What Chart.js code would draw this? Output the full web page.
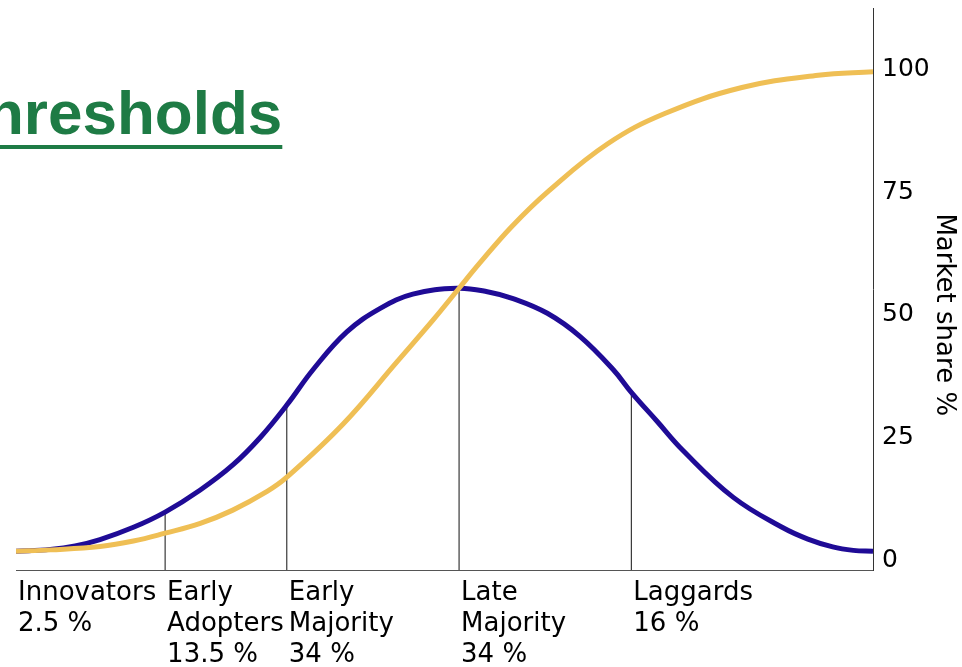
<!DOCTYPE html>
<html>
<head>
<meta charset="utf-8">
<script src="https://cdn.jsdelivr.net/npm/chart.js@4.4.1/dist/chart.umd.min.js"></script>
<style>
  html, body { margin: 0; padding: 0; background: #fff; }
  #wrap { position: relative; width: 962px; height: 667px; overflow: hidden; }
  #chart { position: absolute; left: 0; top: 0; }
  #heading {
    position: absolute; left: -14px; top: 82px;
    font: bold 62px "Liberation Sans", Arial, sans-serif; line-height: 62px;
    color: #1e7b45; white-space: nowrap;
    text-decoration: underline; text-decoration-thickness: 4px; text-underline-offset: 11px;
  }
</style>
</head>
<body>
<div id="wrap">
  <canvas id="chart" width="962" height="667"></canvas>
  <div id="heading">hresholds</div>
</div>
<script>
// x runs 0..100 along the adoption timeline
const adoptersX = [0, 4, 6.9, 9.8, 13.7, 17.4, 21.5, 25.3, 28.5, 31.6, 34.7, 38.6, 42.5, 46.3, 51.5, 55, 58, 62, 65.8, 69.7, 71.8, 74.8, 77.8, 83.7, 89.5, 92.4, 95.3, 97.7, 100];
const adoptersY = [1.8, 2.2, 2.9, 4.2, 6.7, 9.8, 14.3, 19.4, 25.0, 31.6, 38.9, 46.5, 51.3, 54.2, 55.4, 54.7, 53.3, 50.3, 45.6, 38.8, 34.2, 28.3, 22.4, 12.8, 6.6, 4.3, 2.7, 2.0, 1.8];

const shareX = [0, 4, 9.8, 13.7, 17.4, 21.5, 25.3, 29.3, 31.6, 38.2, 44.5, 48.7, 51.7, 54.1, 57.8, 62.2, 69, 75.7, 84.7, 93.6, 100];
const shareY = [1.8, 2.1, 2.8, 3.9, 5.5, 7.5, 10.2, 14.0, 16.9, 27.8, 40.5, 49, 55.4, 60.5, 67.9, 75.3, 84.8, 91, 96.3, 98.8, 99.5];

// segment boundaries and the height of the bell curve there
const boundaryX = [17.4, 31.6, 51.7, 71.8];
const boundaryTop = [9.8, 31.6, 55.4, 34.2];

const segmentStart = [0, 17.4, 31.6, 51.7, 71.8];
const segmentNames = ["Innovators", "Early Adopters", "Early Majority", "Late Majority", "Laggards"];
const segmentShares = ["2.5 %", "13.5 %", "34 %", "34 %", "16 %"];

const yTicks = [0, 25, 50, 75, 100];
const yMin = -2;
const yMax = 112.5;

const segmentLabels = segmentNames.map((n, i) => n.split(" ").concat(segmentShares[i]));

function points(xs, ys) {
  return xs.map((x, i) => ({ x, y: ys[i] }));
}

const boundarySets = boundaryX.map((x, i) => ({
  data: [{ x, y: yMin }, { x, y: boundaryTop[i] }],
  borderColor: "#111",
  borderWidth: 1,
  pointRadius: 0
}));

const axisTitle = {
  id: "axisTitle",
  afterDraw(chart) {
    const ctx = chart.ctx;
    const y = chart.scales.y;
    ctx.save();
    ctx.translate(chart.width - 25, y.getPixelForValue(50));
    ctx.rotate(Math.PI / 2);
    ctx.font = "26px 'DejaVu Sans'";
    ctx.fillStyle = "#000";
    ctx.textAlign = "center";
    ctx.textBaseline = "alphabetic";
    ctx.fillText("Market share %", 0, 0);
    ctx.restore();
  }
};

new Chart(document.getElementById("chart").getContext("2d"), {
  type: "line",
  data: {
    datasets: [
      {
        label: "Market share",
        data: points(shareX, shareY),
        borderColor: "#efbf55",
        borderWidth: 5,
        pointRadius: 0,
        tension: 0.4
      },
      {
        label: "Adopters",
        data: points(adoptersX, adoptersY),
        borderColor: "#1f0b96",
        borderWidth: 5,
        pointRadius: 0,
        tension: 0.4
      },
      ...boundarySets
    ]
  },
  options: {
    responsive: false,
    animation: false,
    layout: { padding: { left: 16, top: 8, right: 0, bottom: 0 } },
    plugins: { legend: { display: false }, tooltip: { enabled: false } },
    scales: {
      x: {
        type: "linear",
        min: 0,
        max: 100,
        grid: { display: false, drawTicks: false },
        border: { display: true, color: "#555", width: 1 },
        afterBuildTicks: (s) => { s.ticks = segmentStart.map((v) => ({ value: v })); },
        afterFit: (s) => { s.height = 97; s.paddingLeft = 0; s.paddingRight = 0; },
        ticks: {
          autoSkip: false,
          maxRotation: 0,
          align: "start",
          padding: 8,
          labelOffset: 2,
          color: "#000",
          font: { family: "DejaVu Sans", size: 26, lineHeight: "31px" },
          callback: (v, i) => segmentLabels[i]
        }
      },
      y: {
        position: "right",
        min: yMin,
        max: yMax,
        grid: { display: false, drawTicks: false },
        border: { display: true, color: "#333", width: 1 },
        afterBuildTicks: (s) => { s.ticks = yTicks.map((v) => ({ value: v })); },
        afterFit: (s) => { s.width = 89; s.paddingTop = 0; s.paddingBottom = 0; },
        ticks: {
          padding: 9,
          color: "#000",
          font: { family: "DejaVu Sans", size: 25 }
        }
      }
    }
  },
  plugins: [axisTitle]
});
</script>
</body>
</html>
